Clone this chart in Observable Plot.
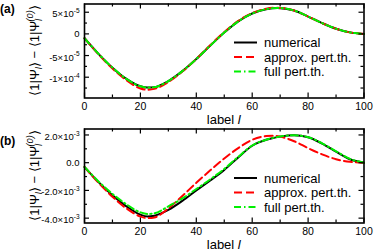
<!DOCTYPE html>
<html><head><meta charset="utf-8">
<script src="https://cdn.jsdelivr.net/npm/d3@7"></script>
<script src="https://cdn.jsdelivr.net/npm/@observablehq/plot@0.6"></script>
<style>
body{margin:0;background:#fff;}
#chart{position:relative;width:374px;height:250px;font-family:"Liberation Sans",Arial,Helvetica,sans-serif;}
#chart svg{display:block;}
</style></head><body><div id="chart"></div>
<script>
// ---- data ----
const xMajor = [0, 20, 40, 60, 80, 100];
const xMinor = [10, 30, 50, 70, 90];
const seriesNames = ["numerical", "approx. pert.th.", "full pert.th."];

// panel (a)
const lA = [0,5,10,15,20,22.5,25,30,35,40,45,50,55,60,65,69,75,80,85,90,95,100];
const numA  = [-1.0e-5,-4.6e-5,-7.8e-5,-10.4e-5,-12.1e-5,-12.4e-5,-12.3e-5,-10.9e-5,-8.6e-5,-5.8e-5,-2.7e-5,0.3e-5,2.9e-5,4.7e-5,5.7e-5,6.0e-5,5.4e-5,4.0e-5,2.5e-5,1.2e-5,0.35e-5,0];
const apxA  = [-1.0e-5,-4.7e-5,-8.0e-5,-10.7e-5,-12.6e-5,-12.9e-5,-12.7e-5,-11.1e-5,-8.7e-5,-5.8e-5,-2.6e-5,0.4e-5,3.0e-5,4.8e-5,5.8e-5,6.05e-5,5.4e-5,4.0e-5,2.5e-5,1.2e-5,0.35e-5,0];
const fullA = [-1.0e-5,-4.6e-5,-7.8e-5,-10.4e-5,-12.1e-5,-12.4e-5,-12.3e-5,-10.9e-5,-8.6e-5,-5.8e-5,-2.7e-5,0.3e-5,2.9e-5,4.7e-5,5.7e-5,6.0e-5,5.4e-5,4.0e-5,2.5e-5,1.2e-5,0.35e-5,0];
const yDomainA = [-1.48e-4, 6.9e-5];
const yMajorA = [5e-5, 0, -5e-5, -1e-4];
const yMajorLabelsA = ["5×10^-5", "0", "-5×10^-5", "-1×10^-4"];
const yMinorA = [2.5e-5, -2.5e-5, -7.5e-5, -1.25e-4];

// panel (b)
const lB = [0,5,10,15,20,22.5,25,30,35,40,45,50,55,60,65,67.5,70,75,80,85,90,95,100];
const numB  = [-0.32e-3,-1.4e-3,-2.35e-3,-3.15e-3,-3.75e-3,-3.88e-3,-3.82e-3,-3.4e-3,-2.75e-3,-2.0e-3,-1.28e-3,-0.52e-3,0.38e-3,1.22e-3,1.65e-3,1.78e-3,1.88e-3,1.98e-3,1.83e-3,1.38e-3,0.8e-3,0.25e-3,0];
const apxB  = [-0.3e-3,-1.45e-3,-2.45e-3,-3.3e-3,-3.88e-3,-4.0e-3,-3.95e-3,-3.3e-3,-2.4e-3,-1.45e-3,-0.55e-3,0.3e-3,1.05e-3,1.65e-3,1.92e-3,1.95e-3,1.88e-3,1.55e-3,1.05e-3,0.6e-3,0.25e-3,0.06e-3,0];
const fullB = [-0.3e-3,-1.35e-3,-2.25e-3,-3.0e-3,-3.58e-3,-3.7e-3,-3.65e-3,-3.15e-3,-2.58e-3,-1.9e-3,-1.2e-3,-0.45e-3,0.42e-3,1.24e-3,1.66e-3,1.79e-3,1.89e-3,1.98e-3,1.84e-3,1.4e-3,0.82e-3,0.27e-3,0];
const yDomainB = [-4.35e-3, 2.43e-3];
const yMajorB = [2e-3, 0, -2e-3, -4e-3];
const yMajorLabelsB = ["2.0×10^-3", "0.0", "-2.0×10^-3", "-4.0×10^-3"];
const yMinorB = [1e-3, -1e-3, -3e-3];

// ---- drawing ----
const styles = [
  {stroke: "#000000", dash: null},
  {stroke: "#ff0000", dash: "8,4"},
  {stroke: "#00f000", dash: "7,3,1.5,3"}
];

function panel(cfg) {
  const W = 374, H = 125, mL = 84, mR = 10.5, mT = 3.5, mB = 27.5;
  const fw = W - mL - mR, fh = H - mT - mB;
  const marks = [];
  cfg.series.forEach((ys, k) => {
    const table = cfg.l.map((x, i) => ({x, y: ys[i]}));
    marks.push(Plot.line(table, {x: "x", y: "y", stroke: styles[k].stroke, strokeWidth: 2,
      strokeDasharray: styles[k].dash, curve: "monotone-x"}));
  });
  // inward ticks on all four sides
  marks.push(Plot.tickX(xMajor, {x: d => d, insetTop: fh - 5, strokeWidth: 1.2}));
  marks.push(Plot.tickX(xMajor, {x: d => d, insetBottom: fh - 5, strokeWidth: 1.2}));
  marks.push(Plot.tickX(xMinor, {x: d => d, insetTop: fh - 3, strokeWidth: 1.2}));
  marks.push(Plot.tickX(xMinor, {x: d => d, insetBottom: fh - 3, strokeWidth: 1.2}));
  marks.push(Plot.tickY(cfg.yMajor, {y: d => d, insetRight: fw - 5, strokeWidth: 1.2}));
  marks.push(Plot.tickY(cfg.yMajor, {y: d => d, insetLeft: fw - 5, strokeWidth: 1.2}));
  marks.push(Plot.tickY(cfg.yMinor, {y: d => d, insetRight: fw - 3, strokeWidth: 1.2}));
  marks.push(Plot.tickY(cfg.yMinor, {y: d => d, insetLeft: fw - 3, strokeWidth: 1.2}));
  marks.push(Plot.frame({stroke: "#000", strokeWidth: 1.6}));
  marks.push(Plot.axisX(xMajor, {tickSize: 0, tickPadding: 5, fontSize: 10.5, label: null}));
  marks.push(Plot.axisY(cfg.yMajor, {tickSize: 0, tickPadding: 5, fontSize: 9.5, label: null,
    tickFormat: d => cfg.yLabels[cfg.yMajor.indexOf(d)]}));

  const svg = Plot.plot({
    width: W, height: H,
    marginLeft: mL, marginRight: mR, marginTop: mT, marginBottom: mB,
    x: {domain: [0, 100]},
    y: {domain: cfg.yDomain},
    style: {fontFamily: '"Liberation Sans", Arial, Helvetica, sans-serif', background: "#fff", color: "#000", overflow: "visible"},
    marks
  });
  const s = d3.select(svg);
  // superscript exponents in y tick labels
  s.selectAll('g[aria-label="y-axis tick label"] text').each(function() {
    const t = d3.select(this);
    const str = t.text();
    if (str.includes("^")) {
      const [base, exp] = str.split("^");
      t.text(null);
      t.append("tspan").attr("dy", 2).text(base);
      t.append("tspan").attr("dy", -4.5).attr("font-size", 6.5).text(exp);
    }
  });
  s.selectAll('g[aria-label="x-axis tick label"] text').attr("fill", "#000");
  // panel tag
  s.append("text").attr("x", 0).attr("y", cfg.tagY).attr("font-size", 12).attr("font-weight", "bold")
    .attr("text-anchor", "start").attr("fill", "#000").text(cfg.tag);
  // y axis label
  const yl = s.append("text").attr("transform", `translate(39,${mT + fh / 2}) rotate(-90)`)
    .attr("text-anchor", "middle").attr("font-size", 13).attr("fill", "#000");
  yl.append("tspan").text("⟨1|Ψ");
  yl.append("tspan").attr("font-size", 9).attr("dy", 3).attr("font-style", "italic").text("l");
  yl.append("tspan").attr("dy", -3).text("⟩ − ⟨1|Ψ");
  yl.append("tspan").attr("font-size", 9).attr("dy", 3).attr("font-style", "italic").text("l");
  yl.append("tspan").attr("font-size", 9).attr("dx", -2.5).attr("dy", -9).attr("font-style", "italic").text("(0)");
  yl.append("tspan").attr("dy", 6).text("⟩");
  // x axis label
  const xl = s.append("text").attr("x", mL + fw / 2).attr("y", 123.5).attr("text-anchor", "middle")
    .attr("font-size", 13).attr("fill", "#000");
  xl.append("tspan").text("label ");
  xl.append("tspan").attr("font-style", "italic").text("l");
  // legend
  seriesNames.forEach((name, k) => {
    const y = cfg.legendY[k];
    s.append("line").attr("x1", 234).attr("x2", 257).attr("y1", y).attr("y2", y)
      .attr("stroke", styles[k].stroke).attr("stroke-width", 2)
      .attr("stroke-dasharray", styles[k].dash);
    s.append("text").attr("x", 264).attr("y", y + 4.5).attr("font-size", 13).attr("text-anchor", "start")
      .attr("fill", "#000").text(name);
  });
  return svg;
}

const chart = document.getElementById("chart");
chart.appendChild(panel({tag: "(a)", tagY: 12.5, l: lA, series: [numA, apxA, fullA], yDomain: yDomainA,
  yMajor: yMajorA, yLabels: yMajorLabelsA, yMinor: yMinorA, legendY: [42.5, 57, 71.5]}));
chart.appendChild(panel({tag: "(b)", tagY: 20, l: lB, series: [numB, apxB, fullB], yDomain: yDomainB,
  yMajor: yMajorB, yLabels: yMajorLabelsB, yMinor: yMinorB, legendY: [53, 67.5, 82]}));
</script></body></html>
